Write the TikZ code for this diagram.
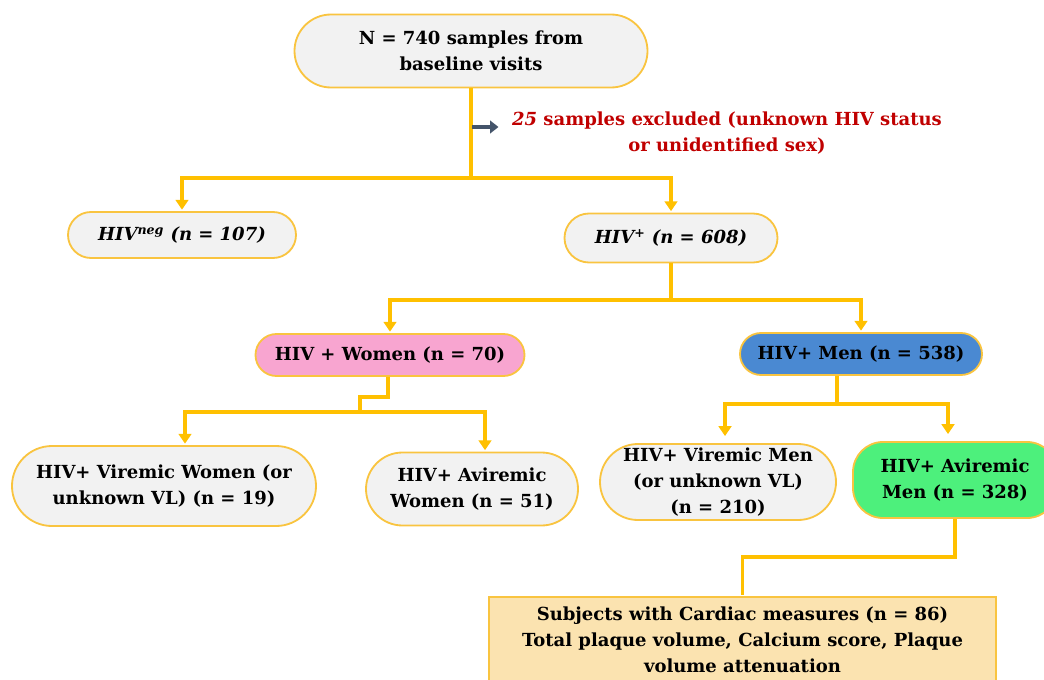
\documentclass[tikz,border=0pt]{standalone}
\usepackage{fontspec}
\setmainfont{DejaVu Serif}
\usetikzlibrary{arrows.meta, shapes.misc}
\usepackage{xcolor}
\definecolor{linegold}{HTML}{FFC000}
\definecolor{boxgold}{HTML}{F9C440}
\definecolor{boxgray}{HTML}{F2F2F2}
\definecolor{boxpink}{HTML}{F8A5D0}
\definecolor{boxblue}{HTML}{4A89D2}
\definecolor{boxgreen}{HTML}{4DF07C}
\definecolor{boxsand}{HTML}{FBE3B0}
\definecolor{exred}{HTML}{C00000}
\definecolor{exarrow}{HTML}{44546A}

\begin{document}
\begin{tikzpicture}[
            > = {Triangle[width=9pt,length=7pt]},
            shorten > = 1pt,
            font = \fontsize{12.8}{18.5}\selectfont\bfseries
        ]

        \tikzstyle{pill}=[
            rounded rectangle,
            draw = boxgold,
            line width = 1.3pt,
            fill = boxgray,
            align = center,
            inner sep = 0pt
        ]
        \tikzstyle{link}=[
            draw = linegold,
            line width = 2.8pt
        ]

        \useasboundingbox (0,0) rectangle (26.1,-16.975);

        \node[pill, minimum width=8.825cm, minimum height=1.825cm] (total) at (11.775,-1.275) {N = 740 samples from\\baseline visits};
        \node[text=exred, align=center, inner sep=0.3cm] (excl) at (18.175,-3.325) {\textit{25} samples excluded (unknown HIV status\\or unidentified sex)};
        \node[pill, minimum width=5.7cm, minimum height=1.15cm] (hivneg) at (4.55,-5.875) {\textit{HIV\textsuperscript{neg} (n = 107)}};
        \node[pill, minimum width=5.325cm, minimum height=1.225cm] (hivpos) at (16.775,-5.95) {\textit{HIV\textsuperscript{+} (n = 608)}};
        \node[pill, fill=boxpink, minimum width=6.725cm, minimum height=1.05cm] (women) at (9.75,-8.875) {HIV + Women (n = 70)};
        \node[pill, fill=boxblue, minimum width=6.05cm, minimum height=1.05cm] (men) at (21.525,-8.85) {HIV+ Men (n = 538)};
        \node[pill, minimum width=7.6cm, minimum height=2cm] (virw) at (4.1,-12.15) {HIV+ Viremic Women (or\\unknown VL) (n = 19)};
        \node[pill, minimum width=5.3cm, minimum height=1.825cm] (avirw) at (11.8,-12.225) {HIV+ Aviremic\\Women (n = 51)};
        \node[pill, minimum width=5.9cm, minimum height=1.9cm] (virm) at (17.95,-12.05) {HIV+ Viremic Men\\(or unknown VL)\\(n = 210)};
        \node[draw=boxgold, line width=1.3pt, fill=boxgreen, rounded corners=0.75cm, align=center,
              minimum width=5.1cm, minimum height=1.9cm] (avirm) at (23.875,-12.0) {HIV+ Aviremic\\Men (n = 328)};
        \node[draw=boxgold, line width=1.3pt, fill=boxsand, align=center,
              minimum width=12.675cm, minimum height=2.15cm] (cardiac) at (18.5625,-16.0) {Subjects with Cardiac measures (n = 86)\\Total plaque volume, Calcium score, Plaque\\volume attenuation};

        \coordinate (split1) at (11.775,-4.45);
        \coordinate (split2) at (16.775,-7.5);
        \coordinate (jogw) at (9.0,-9.925);
        \coordinate (split3) at (9.0,-10.3);
        \coordinate (split4) at (20.925,-10.1);
        \coordinate (bendc) at (23.875,-13.925);
        \coordinate (exstart) at (11.8,-3.175);

        \draw[link] (total.south) -- (split1);
        \draw[link, ->] (split1) -| (hivneg.north);
        \draw[link, ->] (split1) -| (hivpos.north);

        \draw[link] (hivpos.south) -- (split2);
        \draw[link, ->] (split2) -| (women.north);
        \draw[link, ->] (split2) -| (men.north);

        \draw[link] ([xshift=-0.05cm]women.south) |- (jogw) -- (split3);
        \draw[link, ->] (split3) -| ([xshift=0.525cm]virw.north);
        \draw[link, ->] (split3) -| ([xshift=0.325cm]avirw.north);

        \draw[link] ([xshift=-0.6cm]men.south) -- (split4);
        \draw[link, ->, shorten >=5pt] (split4) -| ([xshift=0.175cm]virm.north);
        \draw[link, ->, shorten >=5pt] (split4) -| ([xshift=-0.175cm]avirm.north);

        \draw[link] (avirm.south) -- (bendc) -| (cardiac.north);

        \draw[exarrow, line width=3pt, -{Triangle[width=9pt,length=6pt]}] (exstart) -- (exstart -| excl.west);
    \end{tikzpicture}
\end{document}
